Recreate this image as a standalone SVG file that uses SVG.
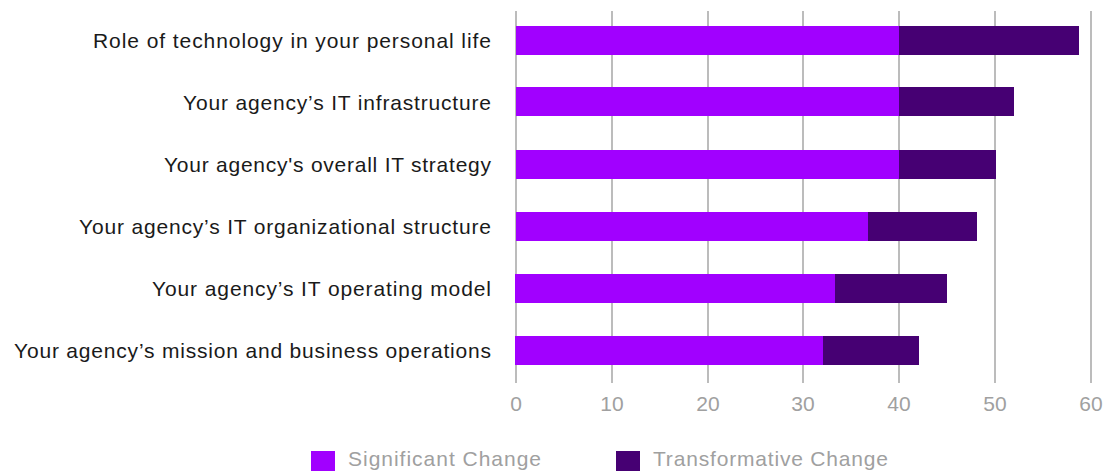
<svg xmlns="http://www.w3.org/2000/svg" width="1107" height="471" viewBox="0 0 1107 471">
<style>
.grid{stroke:#a6a6a6;stroke-width:1.5}
.lbl{font-family:"Liberation Sans",Arial,sans-serif;font-size:21px;fill:#1a1a1a;text-anchor:end}
.tick{font-family:"Liberation Sans",Arial,sans-serif;font-size:21px;fill:#a0a0a0;text-anchor:middle}
.leg{font-family:"Liberation Sans",Arial,sans-serif;font-size:21px;fill:#a0a0a0}
.sig{fill:#a100ff}
.tra{fill:#460073}
</style>
<rect width="1107" height="471" fill="#ffffff"/>
<g id="gridlines">
<line class="grid" x1="516" y1="11" x2="516" y2="383"/>
<line class="grid" x1="612" y1="11" x2="612" y2="383"/>
<line class="grid" x1="708" y1="11" x2="708" y2="383"/>
<line class="grid" x1="803" y1="11" x2="803" y2="383"/>
<line class="grid" x1="899" y1="11" x2="899" y2="383"/>
<line class="grid" x1="995" y1="11" x2="995" y2="383"/>
<line class="grid" x1="1091" y1="11" x2="1091" y2="383"/>
</g>
<g id="axis-labels">
<text class="tick" x="516" y="411">0</text>
<text class="tick" x="612" y="411">10</text>
<text class="tick" x="708" y="411">20</text>
<text class="tick" x="803" y="411">30</text>
<text class="tick" x="899" y="411">40</text>
<text class="tick" x="995" y="411">50</text>
<text class="tick" x="1091" y="411">60</text>
</g>
<g id="row1">
<text class="lbl" x="491" y="48" textLength="398" lengthAdjust="spacing">Role of technology in your personal life</text>
<rect class="sig" x="516" y="26" width="383" height="29"/>
<rect class="tra" x="899" y="26" width="180" height="29"/>
</g>
<g id="row2">
<text class="lbl" x="491" y="110" textLength="308" lengthAdjust="spacing">Your agency’s IT infrastructure</text>
<rect class="sig" x="516" y="87" width="383" height="29"/>
<rect class="tra" x="899" y="87" width="115" height="29"/>
</g>
<g id="row3">
<text class="lbl" x="491" y="172" textLength="327" lengthAdjust="spacing">Your agency's overall IT strategy</text>
<rect class="sig" x="516" y="150" width="383" height="29"/>
<rect class="tra" x="899" y="150" width="97" height="29"/>
</g>
<g id="row4">
<text class="lbl" x="491" y="234" textLength="412" lengthAdjust="spacing">Your agency’s IT organizational structure</text>
<rect class="sig" x="516" y="212" width="352" height="29"/>
<rect class="tra" x="868" y="212" width="109" height="29"/>
</g>
<g id="row5">
<text class="lbl" x="491" y="296" textLength="339" lengthAdjust="spacing">Your agency’s IT operating model</text>
<rect class="sig" x="515" y="274" width="320" height="29"/>
<rect class="tra" x="835" y="274" width="112" height="29"/>
</g>
<g id="row6">
<text class="lbl" x="491" y="358" textLength="477" lengthAdjust="spacing">Your agency’s mission and business operations</text>
<rect class="sig" x="515" y="336" width="308" height="29"/>
<rect class="tra" x="823" y="336" width="96" height="29"/>
</g>
<g id="legend">
<rect class="sig" x="311" y="451" width="24" height="20"/>
<text class="leg" x="348" y="466" textLength="193" lengthAdjust="spacing">Significant Change</text>
<rect class="tra" x="616" y="451" width="24" height="20"/>
<text class="leg" x="653" y="466" textLength="235" lengthAdjust="spacing">Transformative Change</text>
</g>
</svg>
